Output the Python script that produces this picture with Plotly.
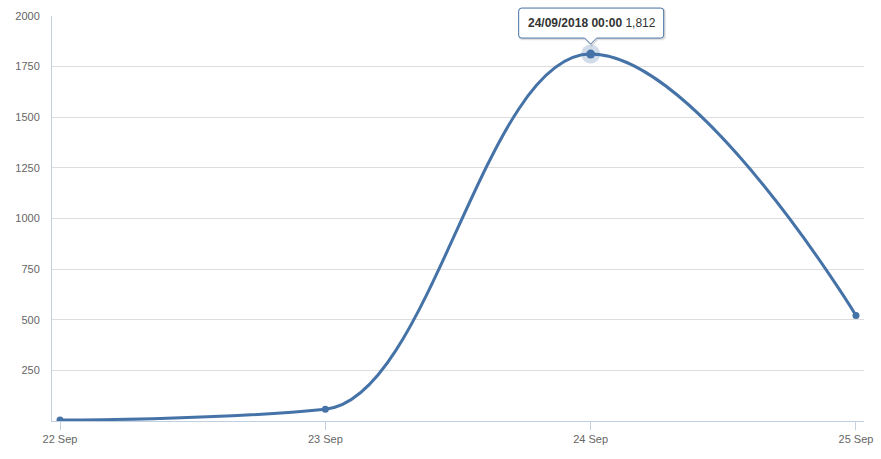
import plotly.graph_objects as go

# ---- data ----
dates = ["2018-09-22", "2018-09-23", "2018-09-24", "2018-09-25"]
x_labels = ["22 Sep", "23 Sep", "24 Sep", "25 Sep"]
values = [5, 58, 1812, 521]
y_ticks = [250, 500, 750, 1000, 1250, 1500, 1750, 2000]
y_tick_text = ["250", "500", "750", "1000", "1250", "1500", "1750", "2000"]
y_range = [0, 2000]
hover_idx = 2
tooltip_date = "24/09/2018 00:00"
tooltip_value = "1,812"

color = "#4572A7"
xs = list(range(len(dates)))


def spline_path(px, py, smoothing=1.5):
    """Highcharts-style spline through the data points, in data units."""
    denom = smoothing + 1
    n = len(px)
    right = [None] * n
    left = [None] * n
    for i in range(1, n - 1):
        lx, ly = px[i - 1], py[i - 1]
        nx, ny = px[i + 1], py[i + 1]
        x, y = px[i], py[i]
        lcx = (smoothing * x + lx) / denom
        lcy = (smoothing * y + ly) / denom
        rcx = (smoothing * x + nx) / denom
        rcy = (smoothing * y + ny) / denom
        corr = 0
        if rcx != lcx:
            corr = ((rcy - lcy) * (rcx - x)) / (rcx - lcx) + y - rcy
        lcy += corr
        rcy += corr
        if lcy > ly and lcy > y:
            lcy = max(ly, y)
            rcy = 2 * y - lcy
        elif lcy < ly and lcy < y:
            lcy = min(ly, y)
            rcy = 2 * y - lcy
        if rcy > ny and rcy > y:
            rcy = max(ny, y)
            lcy = 2 * y - rcy
        elif rcy < ny and rcy < y:
            rcy = min(ny, y)
            lcy = 2 * y - rcy
        left[i] = (lcx, lcy)
        right[i] = (rcx, rcy)
    d = f"M {px[0]},{py[0]}"
    for i in range(1, n):
        c1 = right[i - 1] or (px[i - 1], py[i - 1])
        c2 = left[i] or (px[i], py[i])
        d += f" C {c1[0]},{c1[1]} {c2[0]},{c2[1]} {px[i]},{py[i]}"
    return d


def box(dx=0, dy=0):
    pts = [(-69, 46), (70, 46), (73, 43), (73, 19), (70, 16), (6, 16), (0, 10),
           (-6, 16), (-69, 16), (-72, 19), (-72, 43)]
    p = [(a + dx, b + dy) for a, b in pts]
    return (f"M {p[0][0]},{p[0][1]} L {p[1][0]},{p[1][1]} "
            f"Q {73+dx},{46+dy} {p[2][0]},{p[2][1]} L {p[3][0]},{p[3][1]} "
            f"Q {73+dx},{16+dy} {p[4][0]},{p[4][1]} L {p[5][0]},{p[5][1]} "
            f"L {p[6][0]},{p[6][1]} L {p[7][0]},{p[7][1]} L {p[8][0]},{p[8][1]} "
            f"Q {-72+dx},{16+dy} {p[9][0]},{p[9][1]} L {p[10][0]},{p[10][1]} "
            f"Q {-72+dx},{46+dy} {p[0][0]},{p[0][1]} Z")


fig = go.Figure()
# spline line
fig.add_shape(type="path", path=spline_path(xs, values), xref="x", yref="y",
              line=dict(color=color, width=3), layer="between")
# point markers
fig.add_trace(go.Scatter(
    x=xs, y=values, mode="markers",
    marker=dict(color=color, size=7),
    hoverinfo="skip", showlegend=False))
# hover halo + hovered point
fig.add_trace(go.Scatter(
    x=[xs[hover_idx]], y=[values[hover_idx]], mode="markers",
    marker=dict(color="rgba(69,114,167,0.25)", size=19),
    hoverinfo="skip", showlegend=False))
fig.add_trace(go.Scatter(
    x=[xs[hover_idx]], y=[values[hover_idx]], mode="markers",
    marker=dict(color=color, size=9),
    hoverinfo="skip", showlegend=False))

# tooltip box with callout (pixel-sized, anchored at hovered point)
y_paper = (values[hover_idx] - y_range[0]) / (y_range[1] - y_range[0])
for off, w, a in [(1, 3, 0.05), (1, 1.5, 0.1)]:
    fig.add_shape(type="path", xsizemode="pixel", ysizemode="pixel",
                  xanchor=xs[hover_idx], yanchor=y_paper,
                  xref="x", yref="paper", path=box(off, -off),
                  line=dict(color=f"rgba(0,0,0,{a})", width=w), layer="above")
fig.add_shape(type="path", xsizemode="pixel", ysizemode="pixel",
              xanchor=xs[hover_idx], yanchor=y_paper,
              xref="x", yref="paper", path=box(),
              fillcolor="white", line=dict(color=color, width=1), layer="above")
fig.add_annotation(
    x=xs[hover_idx], y=values[hover_idx],
    text=f"<b>{tooltip_date}</b> {tooltip_value}",
    showarrow=False, yshift=31, xshift=1,
    font=dict(family="Liberation Sans, Arial, sans-serif", size=12, color="#333333"))

fig.update_layout(
    width=881, height=459,
    margin=dict(l=52, r=17, t=16, b=38),
    paper_bgcolor="white", plot_bgcolor="white",
    font=dict(family="Liberation Sans, Arial, sans-serif", size=11, color="#666666"),
    xaxis=dict(
        range=[-0.0302, len(xs) - 1 + 0.0302],
        tickvals=xs, ticktext=x_labels,
        showgrid=False, showline=True, linecolor="#C0D0E0", linewidth=1,
        ticks="outside", ticklen=8, tickcolor="#C0D0E0", tickwidth=1,
        zeroline=False, fixedrange=True, automargin=False),
    yaxis=dict(
        range=y_range, tickvals=y_ticks, ticktext=y_tick_text,
        showgrid=True, gridcolor="#DDDDDD", gridwidth=1,
        showline=True, linecolor="#C0D0E0", linewidth=1,
        ticks="", ticklabelstandoff=9,
        zeroline=False, fixedrange=True, automargin=False),
)

fig.write_html("out.html", config={"displayModeBar": False},
               post_script="document.body.style.margin='0';")
